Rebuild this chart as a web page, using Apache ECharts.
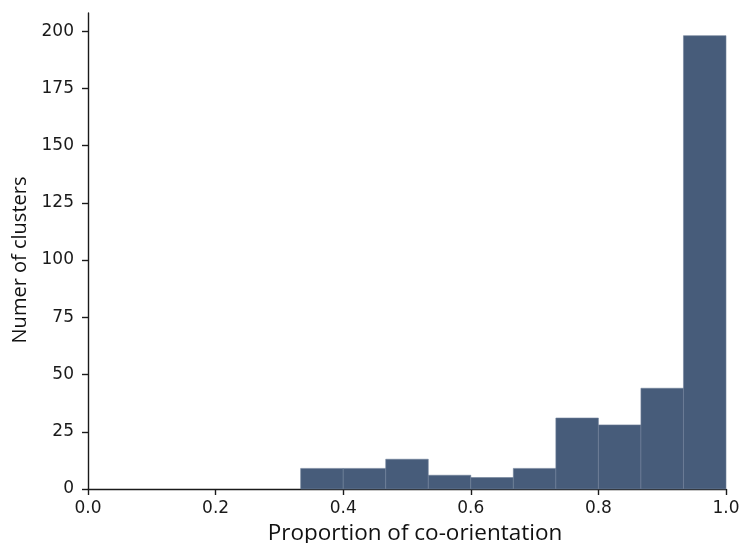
<!DOCTYPE html>
<html>
<head>
<meta charset="utf-8">
<script src="https://cdn.jsdelivr.net/npm/echarts@6/dist/echarts.min.js"></script>
<style>
  html, body { margin: 0; padding: 0; background: #fff; }
  #chart { width: 743px; height: 543px; }
</style>
</head>
<body>
<div id="chart"></div>
<script>
// Histogram bins: left edge, right edge (width 1/15) and count per bin
const binStarts = [1/3, 6/15, 7/15, 8/15, 9/15, 10/15, 11/15, 12/15, 13/15, 14/15];
const binEnds   = [6/15, 7/15, 8/15, 9/15, 10/15, 11/15, 12/15, 13/15, 14/15, 1.0];
const counts    = [9, 9, 13, 6, 5, 9, 31, 28, 44, 198];

const xTicks = [0, 0.2, 0.4, 0.6, 0.8, 1.0];
const yTicks = [0, 25, 50, 75, 100, 125, 150, 175, 200];

const barData = binStarts.map((s, i) => [s, binEnds[i], counts[i]]);

const chart = echarts.init(document.getElementById('chart'));
const tickFont = { fontFamily: 'DejaVu Sans', fontSize: 17, color: '#1a1a1a' };
const axisStroke = { color: '#1a1a1a', width: 1.4 };

chart.setOption({
  animation: false,
  grid: { left: 88, right: 17, top: 13, bottom: 54, outerBoundsMode: 'none' },
  xAxis: {
    type: 'value',
    min: 0, max: 1,
    name: 'Proportion of co-orientation',
    nameLocation: 'middle',
    nameGap: 27,
    nameTextStyle: { fontFamily: 'Open Sans', fontSize: 22.5, color: '#111', padding: [0, 0, 0, 16] },
    axisLine: { show: true, onZero: false, lineStyle: axisStroke },
    axisTick: { show: true, length: 6, lineStyle: axisStroke, customValues: xTicks },
    axisLabel: { ...tickFont, margin: 11, customValues: xTicks, formatter: v => v.toFixed(1) },
    splitLine: { show: false }
  },
  yAxis: {
    type: 'value',
    min: 0, max: 207.9,
    name: 'Numer of clusters',
    nameLocation: 'middle',
    nameGap: 58,
    nameTextStyle: { fontFamily: 'Open Sans', fontSize: 20, color: '#111', padding: [0, 18, 0, 0] },
    axisLine: { show: true, lineStyle: axisStroke },
    axisTick: { show: true, length: 6, lineStyle: axisStroke, customValues: yTicks },
    axisLabel: { ...tickFont, margin: 14, customValues: yTicks },
    splitLine: { show: false }
  },
  series: [{
    type: 'custom',
    data: barData,
    renderItem: function (params, api) {
      const p0 = api.coord([api.value(0), api.value(2)]);
      const p1 = api.coord([api.value(1), 0]);
      return {
        type: 'rect',
        shape: { x: p0[0], y: p0[1], width: p1[0] - p0[0], height: p1[1] - p0[1] },
        style: { fill: '#475c7a', stroke: '#6f8098', lineWidth: 0.6 }
      };
    },
    encode: { x: [0, 1], y: 2 },
    z: 1
  }]
});
</script>
</body>
</html>
